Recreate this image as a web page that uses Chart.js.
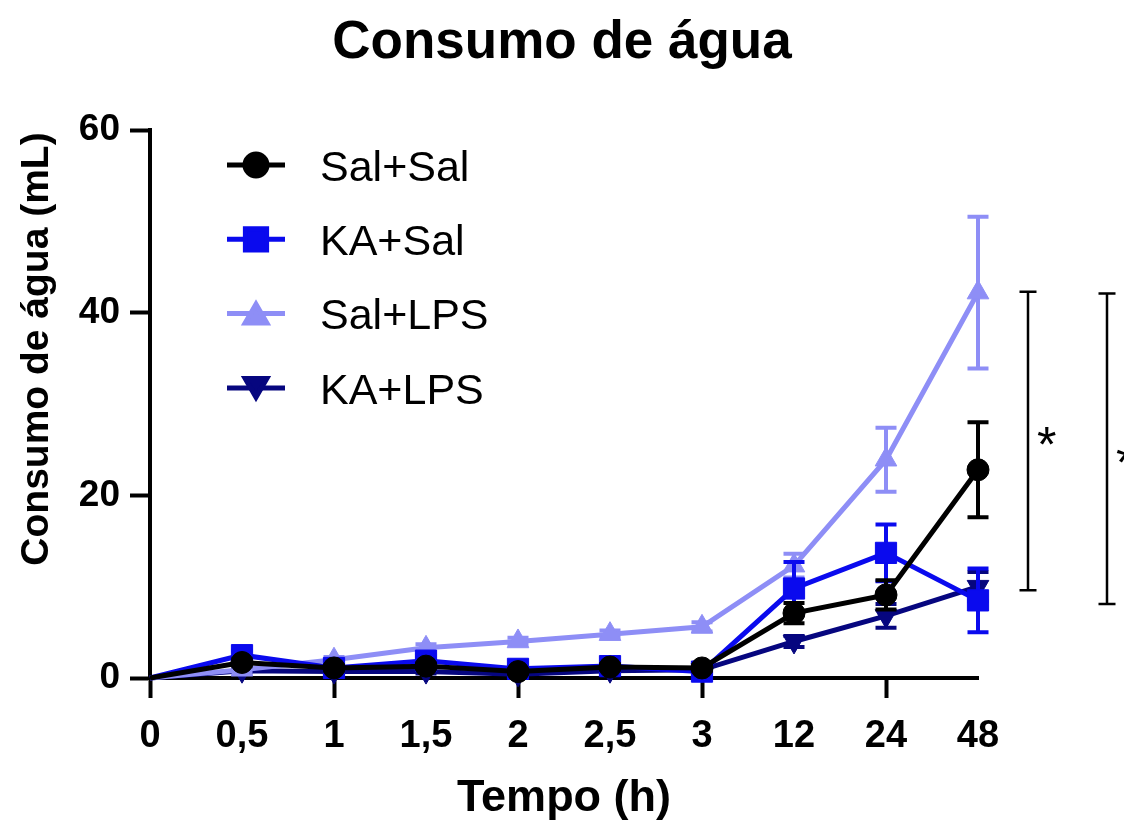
<!DOCTYPE html>
<html>
<head>
<meta charset="utf-8">
<script src="https://cdn.jsdelivr.net/npm/chart.js@4.4.1/dist/chart.umd.min.js"></script>
<style>
html,body{margin:0;padding:0;background:#fff;}
#wrap{width:1124px;height:821px;}
</style>
</head>
<body>
<div id="wrap"><canvas id="c" width="1124" height="821"></canvas></div>
<script>
// ---- data ----
const chartTitle = 'Consumo de água';
const xTitle = 'Tempo (h)';
const yTitle = 'Consumo de água (mL)';
const timeLabels = ['0', '0,5', '1', '1,5', '2', '2,5', '3', '12', '24', '48'];
const seriesNames = ['Sal+Sal', 'KA+Sal', 'Sal+LPS', 'KA+LPS'];

const salSal    = [0, 1.7, 1.1, 1.3, 0.7, 1.2, 1.1, 7.1, 9.1, 22.8];
const salSalErr = [0, 0.4, 0.3, 0.3, 0.2, 0.3, 0.3, 1.1, 1.6, 5.2];
const kaSal     = [0, 2.5, 1.1, 1.9, 1.0, 1.3, 0.7, 9.8, 13.7, 8.5];
const kaSalErr  = [0, 0.5, 0.3, 0.4, 0.3, 0.3, 0.2, 2.9, 3.1, 3.5];
const salLps    = [0, 0.9, 2.0, 3.3, 4.0, 4.8, 5.6, 12.3, 23.9, 42.2];
const salLpsErr = [0, 0.3, 0.3, 0.4, 0.4, 0.4, 0.5, 1.3, 3.5, 8.3];
const kaLps     = [0, 0.8, 0.7, 0.7, 0.4, 0.8, 0.9, 4.0, 6.8, 10.0];
const kaLpsErr  = [0, 0.2, 0.2, 0.2, 0.1, 0.2, 0.2, 0.6, 1.3, 1.6];

const yTickValues = [0, 20, 40, 60];

// significance brackets (y values)
const bracketTops    = [42.3, 42.1];
const bracketBottoms = [9.6, 8.1];
const bracketLabels  = ['*', '*'];

// ---- styles ----
const FONT = "'Liberation Sans', Arial, Helvetica, sans-serif";
const colors = ['#000000', '#0a0aee', '#8e8ef6', '#06067f'];
const pointStyles = ['circle', 'rect', 'triangle', 'triangle'];
const pointRotations = [0, 0, 0, 180];
const pointRadii = [11, 15, 12.5, 12.5];
const seriesValues = [salSal, kaSal, salLps, kaLps];
const seriesErrors = [salSalErr, kaSalErr, salLpsErr, kaLpsErr];

const datasets = seriesNames.map((name, i) => ({
  label: name,
  data: seriesValues[i],
  borderColor: colors[i],
  backgroundColor: colors[i],
  borderWidth: 5,
  tension: 0,
  pointStyle: pointStyles[i],
  pointRotation: pointRotations[i],
  pointRadius: ctx => ctx.dataIndex === 0 ? 0 : pointRadii[i],
  pointHoverRadius: ctx => ctx.dataIndex === 0 ? 0 : pointRadii[i],
  pointBorderWidth: 1,
  pointBackgroundColor: colors[i],
  pointBorderColor: colors[i],
  clip: false,
  fill: false
}));

const errorBarPlugin = {
  id: 'errorBars',
  beforeDatasetDraw(chart, args) {
    const i = args.index;
    const meta = args.meta;
    const ys = chart.scales.y;
    const ctx = chart.ctx;
    const vals = seriesValues[i], errs = seriesErrors[i];
    ctx.save();
    ctx.strokeStyle = colors[i];
    ctx.lineWidth = 4;
    ctx.lineCap = 'butt';
    const cap = 10.5;
    for (let j = 0; j < vals.length; j++) {
      if (!errs[j]) continue;
      const x = meta.data[j].x;
      const yt = ys.getPixelForValue(vals[j] + errs[j]);
      const yb = ys.getPixelForValue(Math.max(0, vals[j] - errs[j]));
      ctx.beginPath();
      ctx.moveTo(x, yt); ctx.lineTo(x, yb);
      ctx.moveTo(x - cap, yt); ctx.lineTo(x + cap, yt);
      ctx.moveTo(x - cap, yb); ctx.lineTo(x + cap, yb);
      ctx.stroke();
    }
    ctx.restore();
  }
};

const decorPlugin = {
  id: 'decor',
  afterDraw(chart) {
    const ctx = chart.ctx;
    const area = chart.chartArea;
    const ys = chart.scales.y;
    ctx.save();
    // chart title (centred on the whole canvas)
    ctx.fillStyle = '#000';
    ctx.font = 'bold 53px ' + FONT;
    ctx.textAlign = 'center';
    ctx.textBaseline = 'middle';
    ctx.fillText(chartTitle, chart.width / 2, 43);

    // y axis title
    ctx.save();
    ctx.translate(37, 349);
    ctx.rotate(-Math.PI / 2);
    ctx.fillStyle = '#000';
    ctx.font = 'bold 39px ' + FONT;
    ctx.textAlign = 'center';
    ctx.textBaseline = 'middle';
    ctx.fillText(yTitle, 0, 0);
    ctx.restore();

    // legend
    const rowY0 = 165, rowStep = 74.3;
    const lx0 = 227, lx1 = 285, tx = 320;
    seriesNames.forEach((name, i) => {
      const y = rowY0 + i * rowStep;
      ctx.strokeStyle = colors[i];
      ctx.fillStyle = colors[i];
      ctx.lineWidth = 5;
      ctx.beginPath();
      ctx.moveTo(lx0, y); ctx.lineTo(lx1, y);
      ctx.stroke();
      const my = pointStyles[i] === 'triangle' ? y + (pointRotations[i] ? -pointRadii[i] / 4 : pointRadii[i] / 4) : y;
      Chart.helpers.drawPoint(ctx, {
        pointStyle: pointStyles[i], radius: pointRadii[i],
        rotation: pointRotations[i], borderWidth: 1
      }, (lx0 + lx1) / 2, my);
      ctx.fillStyle = '#000';
      ctx.font = '43px ' + FONT;
      ctx.textAlign = 'left';
      ctx.textBaseline = 'middle';
      ctx.fillText(name, tx, y + 4);
    });

    // significance brackets
    const bx = [area.right + 50, area.right + 129];
    const starY = [433, 451];
    ctx.strokeStyle = '#000';
    ctx.fillStyle = '#000';
    ctx.lineWidth = 2.5;
    bracketTops.forEach((top, k) => {
      const yt = ys.getPixelForValue(top);
      const yb = ys.getPixelForValue(bracketBottoms[k]);
      ctx.beginPath();
      ctx.moveTo(bx[k], yt); ctx.lineTo(bx[k], yb);
      ctx.moveTo(bx[k] - 8.5, yt); ctx.lineTo(bx[k] + 8.5, yt);
      ctx.moveTo(bx[k] - 8.5, yb); ctx.lineTo(bx[k] + 8.5, yb);
      ctx.stroke();
      ctx.font = '50px ' + FONT;
      ctx.textAlign = 'left';
      ctx.textBaseline = 'alphabetic';
      ctx.fillText(bracketLabels[k], bx[k] + 9, starY[k] + 29);
    });
    ctx.restore();
  }
};

new Chart(document.getElementById('c'), {
  type: 'line',
  data: { labels: timeLabels, datasets: datasets },
  options: {
    responsive: false,
    animation: false,
    events: [],
    layout: { padding: { left: 0, right: 146, top: 130, bottom: 0 } },
    plugins: {
      legend: { display: false },
      tooltip: { enabled: false },
      title: { display: false }
    },
    scales: {
      x: {
        type: 'category',
        offset: false,
        grid: {
          display: true, drawOnChartArea: false, drawTicks: true,
          tickLength: 20, tickWidth: 4,
          tickColor: c => (c.index % 2 === 0 ? '#000' : 'rgba(0,0,0,0)')
        },
        border: { display: true, color: '#000', width: 4 },
        ticks: {
          color: '#000', autoSkip: false, maxRotation: 0, minRotation: 0,
          padding: 16,
          font: { family: FONT, size: 38, weight: 'bold' }
        },
        title: {
          display: true, text: xTitle, color: '#000',
          font: { family: FONT, size: 45, weight: 'bold', lineHeight: 1 },
          padding: { top: 0, bottom: 0 }
        },
        afterFit: s => { s.height = 143; }
      },
      y: {
        min: 0, max: 60,
        afterBuildTicks: s => { s.ticks = yTickValues.map(v => ({ value: v })); },
        grid: {
          display: true, drawOnChartArea: false, drawTicks: true,
          tickLength: 20, tickWidth: 4, tickColor: '#000'
        },
        border: { display: true, color: '#000', width: 4 },
        ticks: {
          color: '#000', padding: 10,
          font: { family: FONT, size: 37, weight: 'bold' }
        },
        afterFit: s => { s.width = 150; }
      }
    }
  },
  plugins: [errorBarPlugin, decorPlugin]
});
</script>
</body>
</html>
